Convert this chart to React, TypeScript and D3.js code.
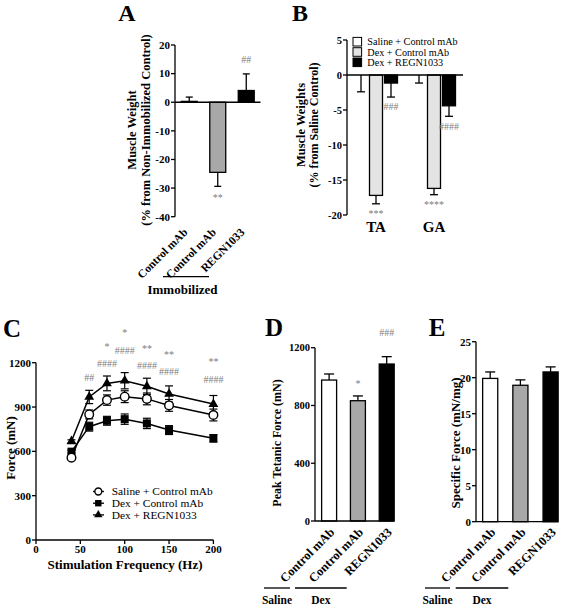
import React from "react";
import * as d3 from "d3";

const FONT = "Liberation Serif, Tinos, Times New Roman, DejaVu Serif, Noto Serif, serif";
const SIG = "#7d7d7d";
const SW = 1.3;

// ---------- Panel A ----------
const aCategories = ["Control mAb", "Control mAb", "REGN1033"];
const aValues = [0.3, -24.5, 4.1];
const aErrors = [1.5, 4.9, 5.8];
const aSig = ["", "**", "##"];
const aTicks = [20, 10, 0, -10, -20, -30, -40];
const aFills = ["#ffffff", "#a8a8a8", "#000000"];

// ---------- Panel B ----------
const bMuscles = ["TA", "GA"];
const bSeries = ["Saline + Control mAb", "Dex + Control mAb", "Dex + REGN1033"];
const bSaline = [0, 0];
const bSalineErr = [2.4, 1.15];
const bDexCtrl = [-17.2, -16.2];
const bDexCtrlErr = [1.2, 0.9];
const bDexRegn = [-1.15, -4.4];
const bDexRegnErr = [2.0, 1.5];
const bSigDexCtrl = ["***", "****"];
const bSigDexRegn = ["###", "####"];
const bTicks = [5, 0, -5, -10, -15, -20];
const bFills = ["#ffffff", "#e4e4e4", "#000000"];

// ---------- Panel C ----------
const cFreq = [40, 60, 80, 100, 125, 150, 200];
const cSaline = [557, 850, 947, 970, 955, 911, 846];
const cSalineErr = [10, 30, 35, 40, 40, 40, 40];
const cDexCtrl = [598, 767, 807, 818, 789, 744, 688];
const cDexCtrlErr = [10, 30, 30, 35, 35, 30, 25];
const cDexRegn = [668, 968, 1060, 1078, 1040, 988, 920];
const cDexRegnErr = [10, 45, 50, 55, 55, 55, 58];
const cSeries = ["Saline + Control mAb", "Dex + Control mAb", "Dex + REGN1033"];
const cSigFreq = [60, 80, 100, 125, 150, 200];
const cSigStar = ["", "*", "*", "**", "**", "**"];
const cSigStarLevel = [0, 1320, 1415, 1308, 1264, 1218];
const cSigHash = ["##", "####", "####", "####", "####", "####"];
const cSigHashLevel = [1101, 1191, 1281, 1180, 1139, 1088];
const cYTicks = [0, 300, 600, 900, 1200];
const cXTicks = [0, 50, 100, 150, 200];

// ---------- Panel D ----------
const dCategories = ["Control mAb", "Control mAb", "REGN1033"];
const dValues = [976, 833, 1087];
const dErrors = [42, 33, 51];
const dSig = ["", "*", "###"];
const dSigLevel = [0, 964, 1304];
const dTicks = [0, 400, 800, 1200];

// ---------- Panel E ----------
const eCategories = ["Control mAb", "Control mAb", "REGN1033"];
const eValues = [19.9, 18.95, 20.8];
const eErrors = [0.9, 0.75, 0.7];
const eTicks = [0, 5, 10, 15, 20, 25];
const groupFills = ["#ffffff", "#a8a8a8", "#000000"];

function sigBaseline(label: string, center: number, fs: number) {
  return label.startsWith("*") ? center + fs * 0.5 : center + fs * 0.33;
}

function YAxis({ x, scale, ticks, fs, tick = 4 }: any) {
  const [d0, d1] = scale.domain();
  return (
    <g>
      <line x1={x} x2={x} y1={scale(d0)} y2={scale(d1)} stroke="#000" strokeWidth={SW} />
      {ticks.map((t: number) => (
        <g key={t}>
          <line x1={x - tick} x2={x} y1={scale(t)} y2={scale(t)} stroke="#000" strokeWidth={SW} />
          <text x={x - tick - 1} y={scale(t) + fs * 0.35} fontSize={fs} fontWeight="bold" textAnchor="end">
            {t}
          </text>
        </g>
      ))}
    </g>
  );
}

function ErrBar({ x, y0, y1, cap }: any) {
  return (
    <g stroke="#000" strokeWidth={SW}>
      <line x1={x} x2={x} y1={y0} y2={y1} />
      <line x1={x - cap / 2} x2={x + cap / 2} y1={y1} y2={y1} />
    </g>
  );
}

function PanelA() {
  const y = d3.scaleLinear().domain([-40, 20]).range([216.7, 45]);
  const x = d3
    .scaleBand<number>()
    .domain(aCategories.map((_, i) => i))
    .range([175, 260.5])
    .paddingInner(0.44)
    .paddingOuter(0.22);
  const bw = x.bandwidth();
  return (
    <g>
      <text x={127} y={21} fontSize={24} fontWeight="bold" textAnchor="middle">A</text>
      <text transform="translate(136,130) rotate(-90)" fontSize={12.5} fontWeight="bold" textAnchor="middle">
        Muscle Weight
      </text>
      <text transform="translate(149.5,130) rotate(-90)" fontSize={12.5} fontWeight="bold" textAnchor="middle">
        (% from Non-Immobilized Control)
      </text>
      {aValues.map((v, i) => {
        const x0 = x(i)!;
        const cx = x0 + bw / 2;
        const top = Math.min(y(v), y(0));
        const h = Math.abs(y(v) - y(0));
        const end = v >= 0 ? v + aErrors[i] : v - aErrors[i];
        return (
          <g key={i}>
            <ErrBar x={cx} y0={y(v)} y1={y(end)} cap={7} />
            <rect x={x0} y={top} width={bw} height={h} fill={aFills[i]} stroke="#000" strokeWidth={SW} />
            {aSig[i] && (
              <text
                x={cx}
                y={sigBaseline(aSig[i], v >= 0 ? y(end) - 14 : y(end) + 10, 10)}
                fontSize={10}
                fill={SIG}
                textAnchor="middle"
              >
                {aSig[i]}
              </text>
            )}
            <text
              transform={`translate(${cx - 1},233) rotate(-45)`}
              fontSize={11.5}
              fontWeight="bold"
              textAnchor="end"
            >
              {aCategories[i]}
            </text>
          </g>
        );
      })}
      <line x1={175} x2={260.5} y1={y(0)} y2={y(0)} stroke="#000" strokeWidth={SW} />
      <YAxis x={175} scale={y} ticks={aTicks} fs={11} />
      <line x1={163} x2={209} y1={276.7} y2={276.7} stroke="#000" strokeWidth={SW} />
      <text x={182.5} y={294} fontSize={13} fontWeight="bold" textAnchor="middle">Immobilized</text>
    </g>
  );
}

function PanelB() {
  const y = d3.scaleLinear().domain([-20, 5]).range([215, 40]);
  const x = d3.scaleBand<string>().domain(bMuscles).range([347, 463]);
  const inner = d3.scaleBand<string>().domain(bSeries).range([-22.5, 22.5]);
  const bw = 13;
  const vals = [bSaline, bDexCtrl, bDexRegn];
  const errs = [bSalineErr, bDexCtrlErr, bDexRegnErr];
  return (
    <g>
      <text x={300} y={21} fontSize={24} fontWeight="bold" textAnchor="middle">B</text>
      <text transform="translate(304.5,125) rotate(-90)" fontSize={12.5} fontWeight="bold" textAnchor="middle">
        Muscle Weights
      </text>
      <text transform="translate(317.5,125) rotate(-90)" fontSize={12} fontWeight="bold" textAnchor="middle">
        (% from Saline Control)
      </text>
      {bMuscles.map((m, mi) => {
        const gc = x(m)! + x.bandwidth() / 2;
        return (
          <g key={m}>
            {bSeries.map((s, si) => {
              const cx = gc + inner(s)! + inner.bandwidth() / 2;
              const v = vals[si][mi];
              const e = errs[si][mi];
              const top = Math.min(y(v), y(0));
              const h = Math.abs(y(v) - y(0));
              return (
                <g key={s}>
                  <ErrBar x={cx} y0={y(v)} y1={y(v - e)} cap={8} />
                  {h > 0 && (
                    <rect x={cx - bw / 2} y={top} width={bw} height={h} fill={bFills[si]} stroke="#000" strokeWidth={SW} />
                  )}
                  {si === 1 && (
                    <text x={cx} y={sigBaseline("*", y(v - e) + 8, 10)} fontSize={10} fill={SIG} textAnchor="middle">
                      {bSigDexCtrl[mi]}
                    </text>
                  )}
                  {si === 2 && (
                    <text x={cx} y={sigBaseline("#", y(v - e) + 10, 10)} fontSize={10} fill={SIG} textAnchor="middle">
                      {bSigDexRegn[mi]}
                    </text>
                  )}
                </g>
              );
            })}
            <text x={gc} y={232} fontSize={15} fontWeight="bold" textAnchor="middle">{m}</text>
          </g>
        );
      })}
      <line x1={347} x2={463} y1={y(0)} y2={y(0)} stroke="#000" strokeWidth={SW} />
      <YAxis x={347} scale={y} ticks={bTicks} fs={10.5} />
      {bSeries.map((s, i) => {
        const cy = 41.7 + i * 10.3;
        return (
          <g key={s}>
            <rect x={353} y={cy - 4.3} width={8.6} height={8.6} fill={bFills[i]} stroke="#000" strokeWidth={1} />
            <text x={367.3} y={cy + 3.5} fontSize={10.2}>{s}</text>
          </g>
        );
      })}
    </g>
  );
}

function PanelC() {
  const x = d3.scaleLinear().domain([0, 200]).range([36, 213.4]);
  const y = d3.scaleLinear().domain([0, 1200]).range([540, 362.7]);
  const line = d3
    .line<number>()
    .x((_, i) => x(cFreq[i]))
    .y((d) => y(d));
  const series = [
    { vals: cSaline, errs: cSalineErr, type: "circle" },
    { vals: cDexCtrl, errs: cDexCtrlErr, type: "square" },
    { vals: cDexRegn, errs: cDexRegnErr, type: "triangle" },
  ];
  const tri = d3.symbol().type(d3.symbolTriangle).size(42)()!;
  const triSmall = d3.symbol().type(d3.symbolTriangle).size(30)()!;
  const marker = (type: string, cx: number, cy: number, small = false) => {
    const s = small ? 0.8 : 1;
    if (type === "circle")
      return <circle cx={cx} cy={cy} r={4.3 * s} fill="#fff" stroke="#000" strokeWidth={1.4} />;
    if (type === "square")
      return <rect x={cx - 4 * s} y={cy - 4 * s} width={8 * s} height={8 * s} fill="#000" />;
    return <path d={small ? triSmall : tri} transform={`translate(${cx},${cy})`} fill="#000" />;
  };
  return (
    <g>
      <text x={12} y={337} fontSize={25} fontWeight="bold" textAnchor="middle">C</text>
      <text transform="translate(14.5,448) rotate(-90)" fontSize={13} fontWeight="bold" textAnchor="middle">
        Force (mN)
      </text>
      <text x={125} y={569} fontSize={13} fontWeight="bold" textAnchor="middle">
        Stimulation Frequency (Hz)
      </text>
      {series.map((s, si) => (
        <g key={si}>
          <path d={line(s.vals)!} fill="none" stroke="#000" strokeWidth={1.5} />
          {s.vals.map((v, i) => {
            const cx = x(cFreq[i]);
            return (
              <g key={i} stroke="#000" strokeWidth={1.2}>
                <line x1={cx} x2={cx} y1={y(v - s.errs[i])} y2={y(v + s.errs[i])} />
                <line x1={cx - 4} x2={cx + 4} y1={y(v + s.errs[i])} y2={y(v + s.errs[i])} />
                <line x1={cx - 4} x2={cx + 4} y1={y(v - s.errs[i])} y2={y(v - s.errs[i])} />
              </g>
            );
          })}
        </g>
      ))}
      {[1, 2, 0].map((si) =>
        series[si].vals.map((v, i) => <g key={`${si}-${i}`}>{marker(series[si].type, x(cFreq[i]), y(v))}</g>)
      )}
      {cSigFreq.map((f, i) => (
        <g key={f}>
          {cSigStar[i] && (
            <text x={x(f)} y={sigBaseline("*", y(cSigStarLevel[i]), 10)} fontSize={10} fill={SIG} textAnchor="middle">
              {cSigStar[i]}
            </text>
          )}
          <text x={x(f)} y={sigBaseline("#", y(cSigHashLevel[i]), 10)} fontSize={10} fill={SIG} textAnchor="middle">
            {cSigHash[i]}
          </text>
        </g>
      ))}
      <YAxis x={36} scale={y} ticks={cYTicks} fs={11} />
      <line x1={36} x2={213.4} y1={540} y2={540} stroke="#000" strokeWidth={SW} />
      {cXTicks.map((t) => (
        <g key={t}>
          <line x1={x(t)} x2={x(t)} y1={540} y2={544} stroke="#000" strokeWidth={SW} />
          <text x={x(t)} y={552.5} fontSize={11} fontWeight="bold" textAnchor="middle">{t}</text>
        </g>
      ))}
      {cSeries.map((s, i) => {
        const cy = [491.5, 503.2, 514.9][i];
        return (
          <g key={s}>
            <line x1={93} x2={104} y1={cy} y2={cy} stroke="#000" strokeWidth={1.3} />
            {marker(series[i].type, 98.3, cy, true)}
            <text x={111.7} y={cy + 3.8} fontSize={11.4}>{s}</text>
          </g>
        );
      })}
    </g>
  );
}

function GroupBars({ cats, values, errors, y, x0, padIn, padOut, step, letter, letterX, ylabel, ylabelX, ylabelFs, ticks, tickFs, sig, sigLevel, cap, lines }: any) {
  const n = cats.length;
  const x = d3
    .scaleBand<number>()
    .domain(cats.map((_: any, i: number) => i))
    .range([x0, x0 + step * (n - padIn + 2 * padOut)])
    .paddingInner(padIn)
    .paddingOuter(padOut);
  const bw = x.bandwidth();
  const lastRight = x(n - 1)! + bw;
  const base = y(0);
  return (
    <g>
      <text x={letterX} y={336} fontSize={25} fontWeight="bold" textAnchor="middle">{letter}</text>
      <text transform={`translate(${ylabelX},443) rotate(-90)`} fontSize={ylabelFs} fontWeight="bold" textAnchor="middle">
        {ylabel}
      </text>
      {values.map((v: number, i: number) => {
        const bx = x(i)!;
        const cx = bx + bw / 2;
        return (
          <g key={i}>
            <ErrBar x={cx} y0={y(v)} y1={y(v + errors[i])} cap={cap} />
            <rect x={bx} y={y(v)} width={bw} height={base - y(v)} fill={groupFills[i]} stroke="#000" strokeWidth={SW} />
            {sig && sig[i] && (
              <text x={cx} y={sigBaseline(sig[i], y(sigLevel[i]), 10)} fontSize={10} fill={SIG} textAnchor="middle">
                {sig[i]}
              </text>
            )}
            <text transform={`translate(${cx + 6},533) rotate(-45)`} fontSize={12.5} fontWeight="bold" textAnchor="end">
              {cats[i]}
            </text>
          </g>
        );
      })}
      <YAxis x={x0} scale={y} ticks={ticks} fs={tickFs} />
      <line x1={x0} x2={lastRight} y1={base} y2={base} stroke="#000" strokeWidth={SW} />
      <line x1={lines[0]} x2={lines[1]} y1={588} y2={588} stroke="#000" strokeWidth={SW} />
      <line x1={lines[2]} x2={lines[3]} y1={588} y2={588} stroke="#000" strokeWidth={SW} />
      <text x={(lines[0] + lines[1]) / 2} y={603.5} fontSize={11.5} fontWeight="bold" textAnchor="middle">Saline</text>
      <text x={(lines[2] + lines[3]) / 2} y={603.5} fontSize={11.5} fontWeight="bold" textAnchor="middle">Dex</text>
    </g>
  );
}

function PanelD() {
  const y = d3.scaleLinear().domain([0, 1200]).range([521, 347.7]);
  return (
    <GroupBars
      cats={dCategories}
      values={dValues}
      errors={dErrors}
      y={y}
      x0={315}
      padIn={0.48}
      padOut={0.23}
      step={28.8}
      letter="D"
      letterX={274}
      ylabel="Peak Tetanic Force (mN)"
      ylabelX={281}
      ylabelFs={12}
      ticks={dTicks}
      tickFs={10.5}
      sig={dSig}
      sigLevel={dSigLevel}
      cap={10}
      lines={[264, 290, 295, 346.7]}
    />
  );
}

function PanelE() {
  const y = d3.scaleLinear().domain([0, 25]).range([521.7, 341.7]);
  return (
    <GroupBars
      cats={eCategories}
      values={eValues}
      errors={eErrors}
      y={y}
      x0={476}
      padIn={0.5}
      padOut={0.22}
      step={30.2}
      letter="E"
      letterX={437}
      ylabel="Specific Force (mN/mg)"
      ylabelX={460}
      ylabelFs={13}
      ticks={eTicks}
      tickFs={11}
      sig={null}
      sigLevel={null}
      cap={10}
      lines={[425, 450, 455.7, 508.3]}
    />
  );
}

export default function App() {
  return (
    <svg
      width={567}
      height={609}
      style={{ position: "absolute", left: 0, top: 0, background: "#fff", fontFamily: FONT }}
      fontFamily={FONT}
    >
      <rect width={567} height={609} fill="#fff" />
      <PanelA />
      <PanelB />
      <PanelC />
      <PanelD />
      <PanelE />
    </svg>
  );
}
